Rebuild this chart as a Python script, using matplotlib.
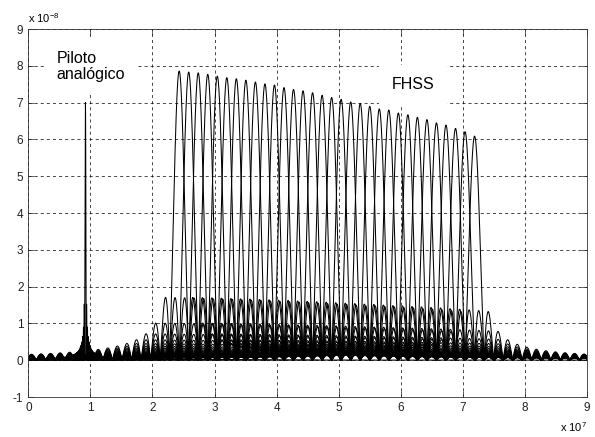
import matplotlib
matplotlib.use('Agg')
import matplotlib.pyplot as plt
import numpy as np

plt.rcParams['font.family'] = ['Liberation Sans', 'DejaVu Sans']
plt.rcParams['mathtext.default'] = 'regular'
plt.rcParams['axes.unicode_minus'] = False

# FHSS hop channels: centre frequency (MHz) and peak of each |sinc| lobe (x 1e-8)
channel_mhz = [24.300, 25.835, 27.370, 28.905, 30.440, 31.975, 33.510, 35.045,
               36.580, 38.115, 39.650, 41.185, 42.720, 44.255, 45.790, 47.325,
               48.860, 50.395, 51.930, 53.465, 55.000, 56.535, 58.070, 59.605,
               61.140, 62.675, 64.210, 65.745, 67.280, 68.815, 70.350, 71.885]
channel_peak = [7.86, 7.83, 7.81, 7.77, 7.72, 7.68, 7.65, 7.61,
                7.56, 7.51, 7.48, 7.41, 7.36, 7.32, 7.27, 7.20,
                7.14, 7.09, 7.02, 6.98, 6.90, 6.83, 6.80, 6.72,
                6.67, 6.60, 6.54, 6.45, 6.39, 6.30, 6.21, 6.09]
hop_bw_mhz = 1.535

# analogue pilot tone
pilot_mhz = 9.2
pilot_peak = 7.0
pilot_bw_mhz = 0.13

x_ticks = list(range(0, 10))
y_ticks = list(range(-1, 10))

fig = plt.figure(figsize=(5.95, 4.37), dpi=100)
ax = fig.add_axes([0.0476, 0.0915, 0.939, 0.842])

f = np.linspace(0, 90, 4501)
for fc, pk in zip(channel_mhz, channel_peak):
    ax.plot(f / 10, pk * np.abs(np.sinc((f - fc) / hop_bw_mhz)), color='k', lw=0.75)

fp = np.linspace(0, 90, 90001)
ax.plot(fp / 10, pilot_peak * np.abs(np.sinc((fp - pilot_mhz) / pilot_bw_mhz)),
        color='k', lw=0.75)

ax.set_xlim(0, 9)
ax.set_ylim(-1, 9)
ax.set_xticks(x_ticks)
ax.set_yticks(y_ticks)
ax.tick_params(direction='in', top=True, right=True, labelsize=8.5, length=4,
               width=0.5, colors='#222222')
for s in ax.spines.values():
    s.set_linewidth(0.6)
    s.set_color('#333333')
ax.set_axisbelow(True)
ax.grid(True, color='k', lw=0.5, linestyle=(0, (4.4, 4.4)))

ax.text(0, 1.012, r'x 10$^{-8}$', transform=ax.transAxes, fontsize=8,
        ha='left', va='bottom')
ax.text(1, -0.095, r'x 10$^{7}$', transform=ax.transAxes, fontsize=8,
        ha='right', va='baseline')

box = dict(boxstyle='square,pad=0.8', facecolor='white', edgecolor='none')
ax.text(0.457, 7.98, 'Piloto\nanalógico', fontsize=11.5, ha='left',
        va='center', linespacing=1.1, bbox=box, zorder=3)
ax.text(6.2, 7.36, 'FHSS', fontsize=11.5, ha='center', va='baseline',
        bbox=box, zorder=3)

fig.savefig('out.png', dpi=100)
